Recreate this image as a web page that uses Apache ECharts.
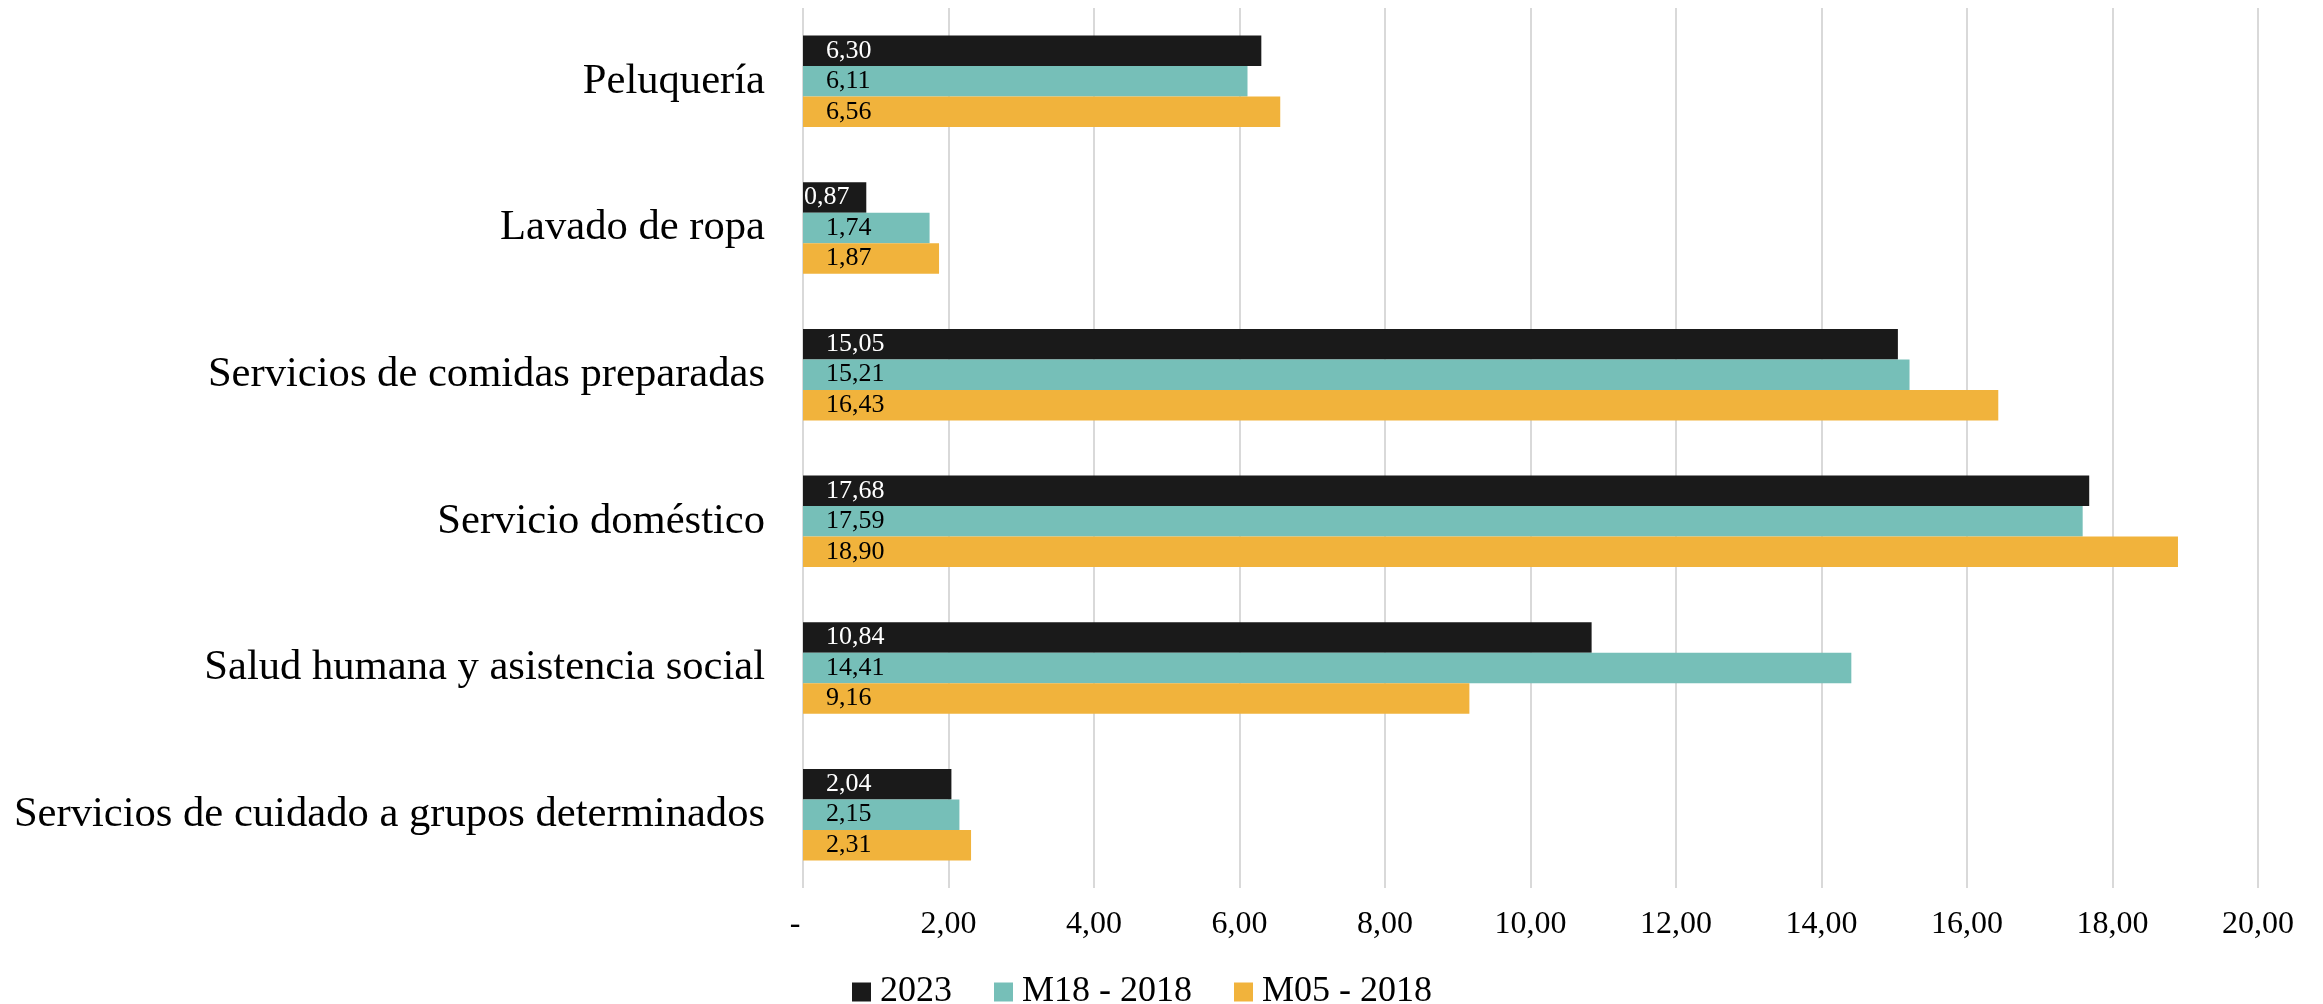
<!DOCTYPE html>
<html>
<head>
<meta charset="utf-8">
<script src="https://cdn.jsdelivr.net/npm/echarts@6/dist/echarts.min.js"></script>
<style>
html,body{margin:0;padding:0;background:#fff;}
#chart{width:2323px;height:1004px;}
</style>
</head>
<body>
<div id="chart"></div>
<script>
const categories = [
  "Peluquería",
  "Lavado de ropa",
  "Servicios de comidas preparadas",
  "Servicio doméstico",
  "Salud humana y asistencia social",
  "Servicios de cuidado a grupos determinados"
];
const seriesNames = ["2023", "M18 - 2018", "M05 - 2018"];
const values2023 = [6.30, 0.87, 15.05, 17.68, 10.84, 2.04];
const valuesM18 = [6.11, 1.74, 15.21, 17.59, 14.41, 2.15];
const valuesM05 = [6.56, 1.87, 16.43, 18.90, 9.16, 2.31];
const xTicks = { min: 0, max: 20, interval: 2 };

const colors = ["#1a1a1a", "#76bfb8", "#f1b33c"];
const labelColors = ["#ffffff", "#000000", "#000000"];
const FONT = "'Liberation Serif', 'Times New Roman', serif";

function fmt(v) { return v.toFixed(2).replace('.', ','); }

function buildData(arr) {
  return arr.map(v => v < 1 ? { value: v, label: { distance: 1 } } : v);
}

const allValues = [values2023, valuesM18, valuesM05];
const series = allValues.map((arr, i) => ({
  name: seriesNames[i],
  type: 'bar',
  data: buildData(arr),
  barGap: '0%',
  barCategoryGap: '37.6%',
  itemStyle: { color: colors[i] },
  label: {
    show: true,
    position: 'insideLeft',
    distance: 23,
    color: labelColors[i],
    fontFamily: FONT,
    fontSize: 26,
    formatter: p => fmt(p.value)
  },
  silent: true,
  animation: false
}));

const chart = echarts.init(document.getElementById('chart'), null, { renderer: 'canvas' });
chart.setOption({
  backgroundColor: '#ffffff',
  animation: false,
  textStyle: { fontFamily: FONT, color: '#000' },
  grid: { left: 803, right: 65, top: 8, bottom: 116, containLabel: false },
  legend: {
    data: seriesNames,
    left: 847,
    top: 969,
    itemWidth: 19,
    itemHeight: 19,
    itemGap: 42,
    icon: 'rect',
    textStyle: { fontFamily: FONT, fontSize: 36, color: '#000', padding: [0, 0, 0, 4] },
    selectedMode: false
  },
  xAxis: {
    type: 'value',
    min: xTicks.min,
    max: xTicks.max,
    interval: xTicks.interval,
    axisLine: { show: false },
    axisTick: { show: false },
    splitLine: { show: true, lineStyle: { color: '#d9d9d9', width: 2 } },
    axisLabel: {
      margin: 21,
      fontFamily: FONT,
      fontSize: 32,
      color: '#000',
      formatter: v => v === 0 ? '-  ' : fmt(v)
    }
  },
  yAxis: {
    type: 'category',
    data: categories,
    inverse: true,
    axisLine: { show: false },
    axisTick: { show: false },
    splitLine: { show: false },
    axisLabel: {
      margin: 38,
      fontFamily: FONT,
      fontSize: 42.6,
      color: '#000',
      padding: [4, 0, 0, 0]
    }
  },
  series: series
});
</script>
</body>
</html>
